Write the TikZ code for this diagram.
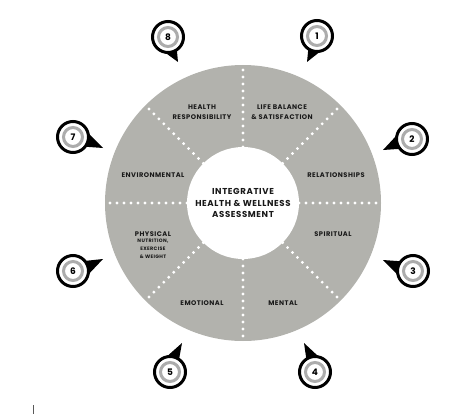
\documentclass[tikz,border=0pt]{standalone}
\usepackage{fontspec}
\setmainfont{Poppins}[LetterSpace=7]
\usetikzlibrary{calc}
\definecolor{WheelGrey}{RGB}{178,178,173}
\definecolor{RingGrey}{RGB}{172,172,172}
\definecolor{InkDark}{RGB}{25,25,25}
\tikzset{
  area/.style={font=\bfseries\fontsize{6.7}{10}\selectfont, text=InkDark, align=center, inner sep=0pt},
  subarea/.style={font=\bfseries\fontsize{4.9}{8}\selectfont, text=InkDark, align=center, inner sep=0pt},
  marker/.style={circle, draw=black, line width=3pt, fill=white, minimum size=31pt, inner sep=0pt,
    font=\bfseries\fontsize{9}{10}\selectfont},
  ring/.style={RingGrey, line width=3pt},
  dotline/.style={white, line width=3.2pt, line cap=round, dash pattern=on 0pt off 7pt},
}
\begin{document}
\begin{tikzpicture}[x=1pt,y=-1pt]
  \useasboundingbox (0,0) rectangle (466,420);
  \coordinate (c) at (243,203);
  \node[circle, fill=WheelGrey, minimum size=276pt, inner sep=0pt, outer sep=0pt] (wheel) at (c) {};
  \node[circle, minimum size=112pt, inner sep=0pt, outer sep=0pt] (hubedge) at (c) {};
  % dotted spokes between the areas
  \foreach \a in {0,45,...,315}
    \draw[dotline] (hubedge.\a) -- (wheel.\a);
  \node[circle, fill=white, minimum size=112pt, inner sep=0pt, outer sep=0pt, align=center,
    font=\bfseries\fontsize{8.6}{11.5}\selectfont, text=InkDark] (hub) at (c)
    {INTEGRATIVE\\HEALTH \& WELLNESS\\ASSESSMENT};
  % area labels
  \node[area] (resp) at (202,112) {HEALTH\\RESPONSIBILITY};
  \node[area] (life) at (282,112) {LIFE BALANCE\\\& SATISFACTION};
  \node[area] (rel) at (336,175) {RELATIONSHIPS};
  \node[area] (spir) at (333,234) {SPIRITUAL};
  \node[area] (ment) at (283,303) {MENTAL};
  \node[area] (emo) at (202,303) {EMOTIONAL};
  \node[area] (phys) at (153,234) {PHYSICAL};
  \node[subarea, below=2pt] (nutr) at (phys.south) {NUTRITION,\\EXERCISE\\\& WEIGHT};
  \node[area] (env) at (153,175) {ENVIRONMENTAL};
  % numbered markers with their tails (fa = flat side, fb = other side)
  \foreach \n/\cx/\cy/\tx/\ty/\fa/\fb in {1/317/36/307/62/-14/40, 2/412/139/383/150/20/-40,
      3/413/271/383/260/-20/40, 4/315/372/304/343/14/-40, 5/170/372/182/343/-14/40,
      6/73/271/103/259/20/-40, 7/73/137/103/148/-20/40, 8/168/37/178/62/14/-40}{
    \coordinate (t\n) at (\tx,\ty);
    \fill (t\n) -- ($(\cx,\cy)!15pt!\fa:(t\n)$) -- ($(\cx,\cy)!15pt!\fb:(t\n)$) -- cycle;
    \node[marker] (m\n) at (\cx,\cy) {\n};
    \draw[ring] (m\n.center) circle (9.5pt);
  }
  \draw[black!65, line width=0.8pt] (33,405) -- (33,414);
\end{tikzpicture}
\end{document}
